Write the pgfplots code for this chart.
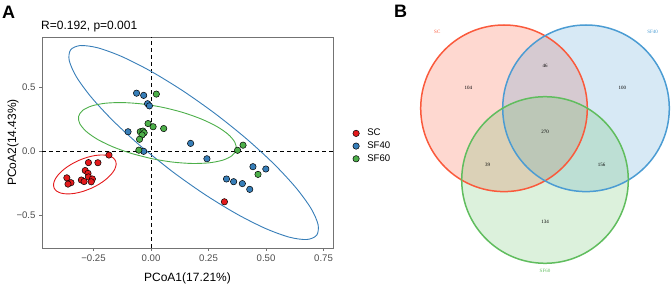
\documentclass[border=0pt]{standalone}
\usepackage{pgfplots}
\pgfplotsset{compat=1.18}
\usepackage{fontspec}
\setmainfont{Liberation Sans}
\newfontfamily\vennfont{Liberation Serif}
\definecolor{cSC}{HTML}{E41A1C}
\definecolor{cSFa}{HTML}{377EB8}
\definecolor{cSFb}{HTML}{4DAF4A}
\definecolor{vred}{HTML}{FA5A3C}
\definecolor{vblue}{HTML}{4B9CD3}
\definecolor{vgreen}{HTML}{60BD5E}
\begin{document}
\begin{tikzpicture}[x=1pt,y=1pt]
\path[use as bounding box] (0,0) rectangle (671,286);
\node[anchor=base west, font=\fontsize{18}{20}\selectfont\bfseries, inner sep=0pt] at (2,267.7) {A};
\node[anchor=base west, font=\fontsize{12}{14}\selectfont, inner sep=0pt] at (41,256.7) {R=0.192, p=0.001};
\begin{axis}[
  at={(42pt,38pt)}, anchor=south west,
  scale only axis, width=291pt, height=211pt,
  xmin=-0.474, xmax=0.791, ymin=-0.755, ymax=0.893,
  xtick={-0.25,0,0.25,0.5,0.75}, xticklabels={−0.25,0.00,0.25,0.50,0.75},
  ytick={-0.5,0,0.5}, yticklabels={−0.5,0.0,0.5},
  tick align=outside, tick pos=left, major tick length=3pt,
  tick style={black!55, line width=0.6pt},
  axis line style={black!55, line width=0.6pt},
  ticklabel style={font=\fontsize{9.6}{11}\selectfont, text=black!70},
  xlabel={PCoA1(17.21\%)}, ylabel={PCoA2(14.43\%)},
  label style={font=\fontsize{12}{14}\selectfont},
  xlabel style={at={(axis description cs:0.5,-0.1588)}, anchor=base},
  ylabel style={at={(axis description cs:-0.0893,0.5)}, anchor=base},
  legend cell align=left,
  legend style={at={(axis description cs:1.0677,0.483)}, anchor=west, draw=none, fill=none, inner sep=0pt,
    font=\fontsize{9.6}{11}\selectfont, row sep=0.5pt, column sep=6pt},
  legend image code/.code={\draw[#1] plot coordinates {(0pt,0pt)};},
]
% reference lines
\addplot[forget plot, black, line width=0.9pt, dash pattern=on 4pt off 3pt] coordinates {(0,-0.755) (0,0.893)};
\addplot[forget plot, black, line width=0.9pt, dash pattern=on 4pt off 3pt] coordinates {(-0.474,0) (0.791,0)};
% ellipses
\addplot[forget plot, smooth, cSFa, line width=0.9pt] coordinates {
(0.0910,-0.1558) (-0.0442,0.0393) (-0.1638,0.2363) (-0.2595,0.4219) (-0.3250,0.5835) (-0.3557,0.7100)
(-0.3495,0.7928) (-0.3069,0.8262) (-0.2308,0.8081) (-0.1263,0.7395) (-0.0006,0.6253) (0.1378,0.4731)
(0.2794,0.2934) (0.4146,0.0983) (0.5342,-0.0987) (0.6299,-0.2843) (0.6954,-0.4459) (0.7261,-0.5724)
(0.7199,-0.6552) (0.6773,-0.6886) (0.6012,-0.6705) (0.4967,-0.6019) (0.3710,-0.4877) (0.2326,-0.3355)
(0.0910,-0.1558) (-0.0442,0.0393)};
\addplot[forget plot, smooth, cSFb, line width=0.9pt] coordinates {
(0.0041,-0.0574) (-0.0838,-0.0173) (-0.1641,0.0338) (-0.2314,0.0922) (-0.2810,0.1542) (-0.3095,0.2153)
(-0.3152,0.2716) (-0.2975,0.3191) (-0.2576,0.3546) (-0.1984,0.3756) (-0.1237,0.3808) (-0.0388,0.3699)
(0.0507,0.3434) (0.1386,0.3033) (0.2189,0.2522) (0.2862,0.1938) (0.3358,0.1318) (0.3643,0.0707)
(0.3700,0.0144) (0.3523,-0.0331) (0.3124,-0.0686) (0.2532,-0.0896) (0.1785,-0.0948) (0.0936,-0.0839)
(0.0041,-0.0574) (-0.0838,-0.0173)};
\addplot[forget plot, smooth, cSC, line width=0.9pt] coordinates {
(-0.2609,-0.2894) (-0.2964,-0.3132) (-0.3313,-0.3280) (-0.3632,-0.3327) (-0.3899,-0.3271) (-0.4097,-0.3114)
(-0.4213,-0.2868) (-0.4237,-0.2550) (-0.4169,-0.2181) (-0.4012,-0.1787) (-0.3779,-0.1394) (-0.3484,-0.1028)
(-0.3147,-0.0716) (-0.2792,-0.0478) (-0.2443,-0.0330) (-0.2124,-0.0283) (-0.1857,-0.0339) (-0.1659,-0.0496)
(-0.1543,-0.0742) (-0.1519,-0.1060) (-0.1587,-0.1429) (-0.1744,-0.1823) (-0.1977,-0.2216) (-0.2272,-0.2582)
(-0.2609,-0.2894) (-0.2964,-0.3132)};
% points
\addplot[only marks, mark=*, mark size=3.2pt, mark options={fill=cSC, draw=black, line width=0.5pt}] coordinates {
(-0.183,-0.029) (-0.272,-0.088) (-0.231,-0.089) (-0.286,-0.150) (-0.274,-0.172) (-0.366,-0.207)
(-0.348,-0.245) (-0.361,-0.256) (-0.303,-0.224) (-0.291,-0.236) (-0.272,-0.200) (-0.255,-0.216)
(-0.260,-0.238) (0.319,-0.394)};
\addlegendentry{SC}
\addplot[only marks, mark=*, mark size=3.2pt, mark options={fill=cSFa, draw=black, line width=0.5pt}] coordinates {
(-0.063,0.454) (-0.032,0.437) (-0.015,0.372) (-0.007,0.355) (-0.100,0.153) (-0.032,0.000)
(0.172,0.062) (0.243,-0.058) (0.328,-0.216) (0.359,-0.237) (0.397,-0.252) (0.429,-0.297)
(0.443,-0.120) (0.499,-0.138)};
\addlegendentry{SF40}
\addplot[only marks, mark=*, mark size=3.2pt, mark options={fill=cSFb, draw=black, line width=0.5pt}] coordinates {
(0.023,0.447) (-0.013,0.217) (0.009,0.192) (0.055,0.178) (-0.047,0.153) (-0.035,0.158)
(-0.030,0.145) (-0.039,0.128) (-0.050,0.094) (-0.053,0.009) (0.376,0.008) (0.400,0.048)
(0.465,-0.180)};
\addlegendentry{SF60}
\end{axis}
% Venn diagram
\node[anchor=base west, font=\fontsize{18}{20}\selectfont\bfseries, inner sep=0pt] at (394,268.7) {B};
\begin{axis}[
  at={(380pt,0pt)}, anchor=south west,
  scale only axis, width=291pt, height=286pt,
  xmin=380, xmax=671, ymin=0, ymax=286,
  hide axis, clip=false,
]
\fill[vred, fill opacity=0.24] (axis cs:504,177.7) circle[radius=83.3pt];
\fill[vblue, fill opacity=0.22] (axis cs:586,177.7) circle[radius=83.3pt];
\fill[vgreen, fill opacity=0.22] (axis cs:545,106) circle[radius=83.3pt];
\draw[vred, line width=1.5pt] (axis cs:504,177.7) circle[radius=83.3pt];
\draw[vblue, line width=1.5pt] (axis cs:586,177.7) circle[radius=83.3pt];
\draw[vgreen, line width=1.5pt] (axis cs:545,106) circle[radius=83.3pt];
\node[font=\vennfont\fontsize{5}{6}\selectfont, text=vred] at (axis cs:437.3,254.3) {SC};
\node[font=\vennfont\fontsize{5}{6}\selectfont, text=vblue] at (axis cs:652.7,254.3) {SF40};
\node[font=\vennfont\fontsize{5}{6}\selectfont, text=vgreen] at (axis cs:545,15.3) {SF60};
\node[font=\vennfont\fontsize{5}{6}\selectfont] at (axis cs:468.3,197.7) {104};
\node[font=\vennfont\fontsize{5}{6}\selectfont] at (axis cs:545,220) {46};
\node[font=\vennfont\fontsize{5}{6}\selectfont] at (axis cs:622.3,198.3) {100};
\node[font=\vennfont\fontsize{5}{6}\selectfont] at (axis cs:545,154.3) {270};
\node[font=\vennfont\fontsize{5}{6}\selectfont] at (axis cs:487.7,121) {39};
\node[font=\vennfont\fontsize{5}{6}\selectfont] at (axis cs:601.7,121) {156};
\node[font=\vennfont\fontsize{5}{6}\selectfont] at (axis cs:545,64.3) {134};
\end{axis}
\end{tikzpicture}
\end{document}
